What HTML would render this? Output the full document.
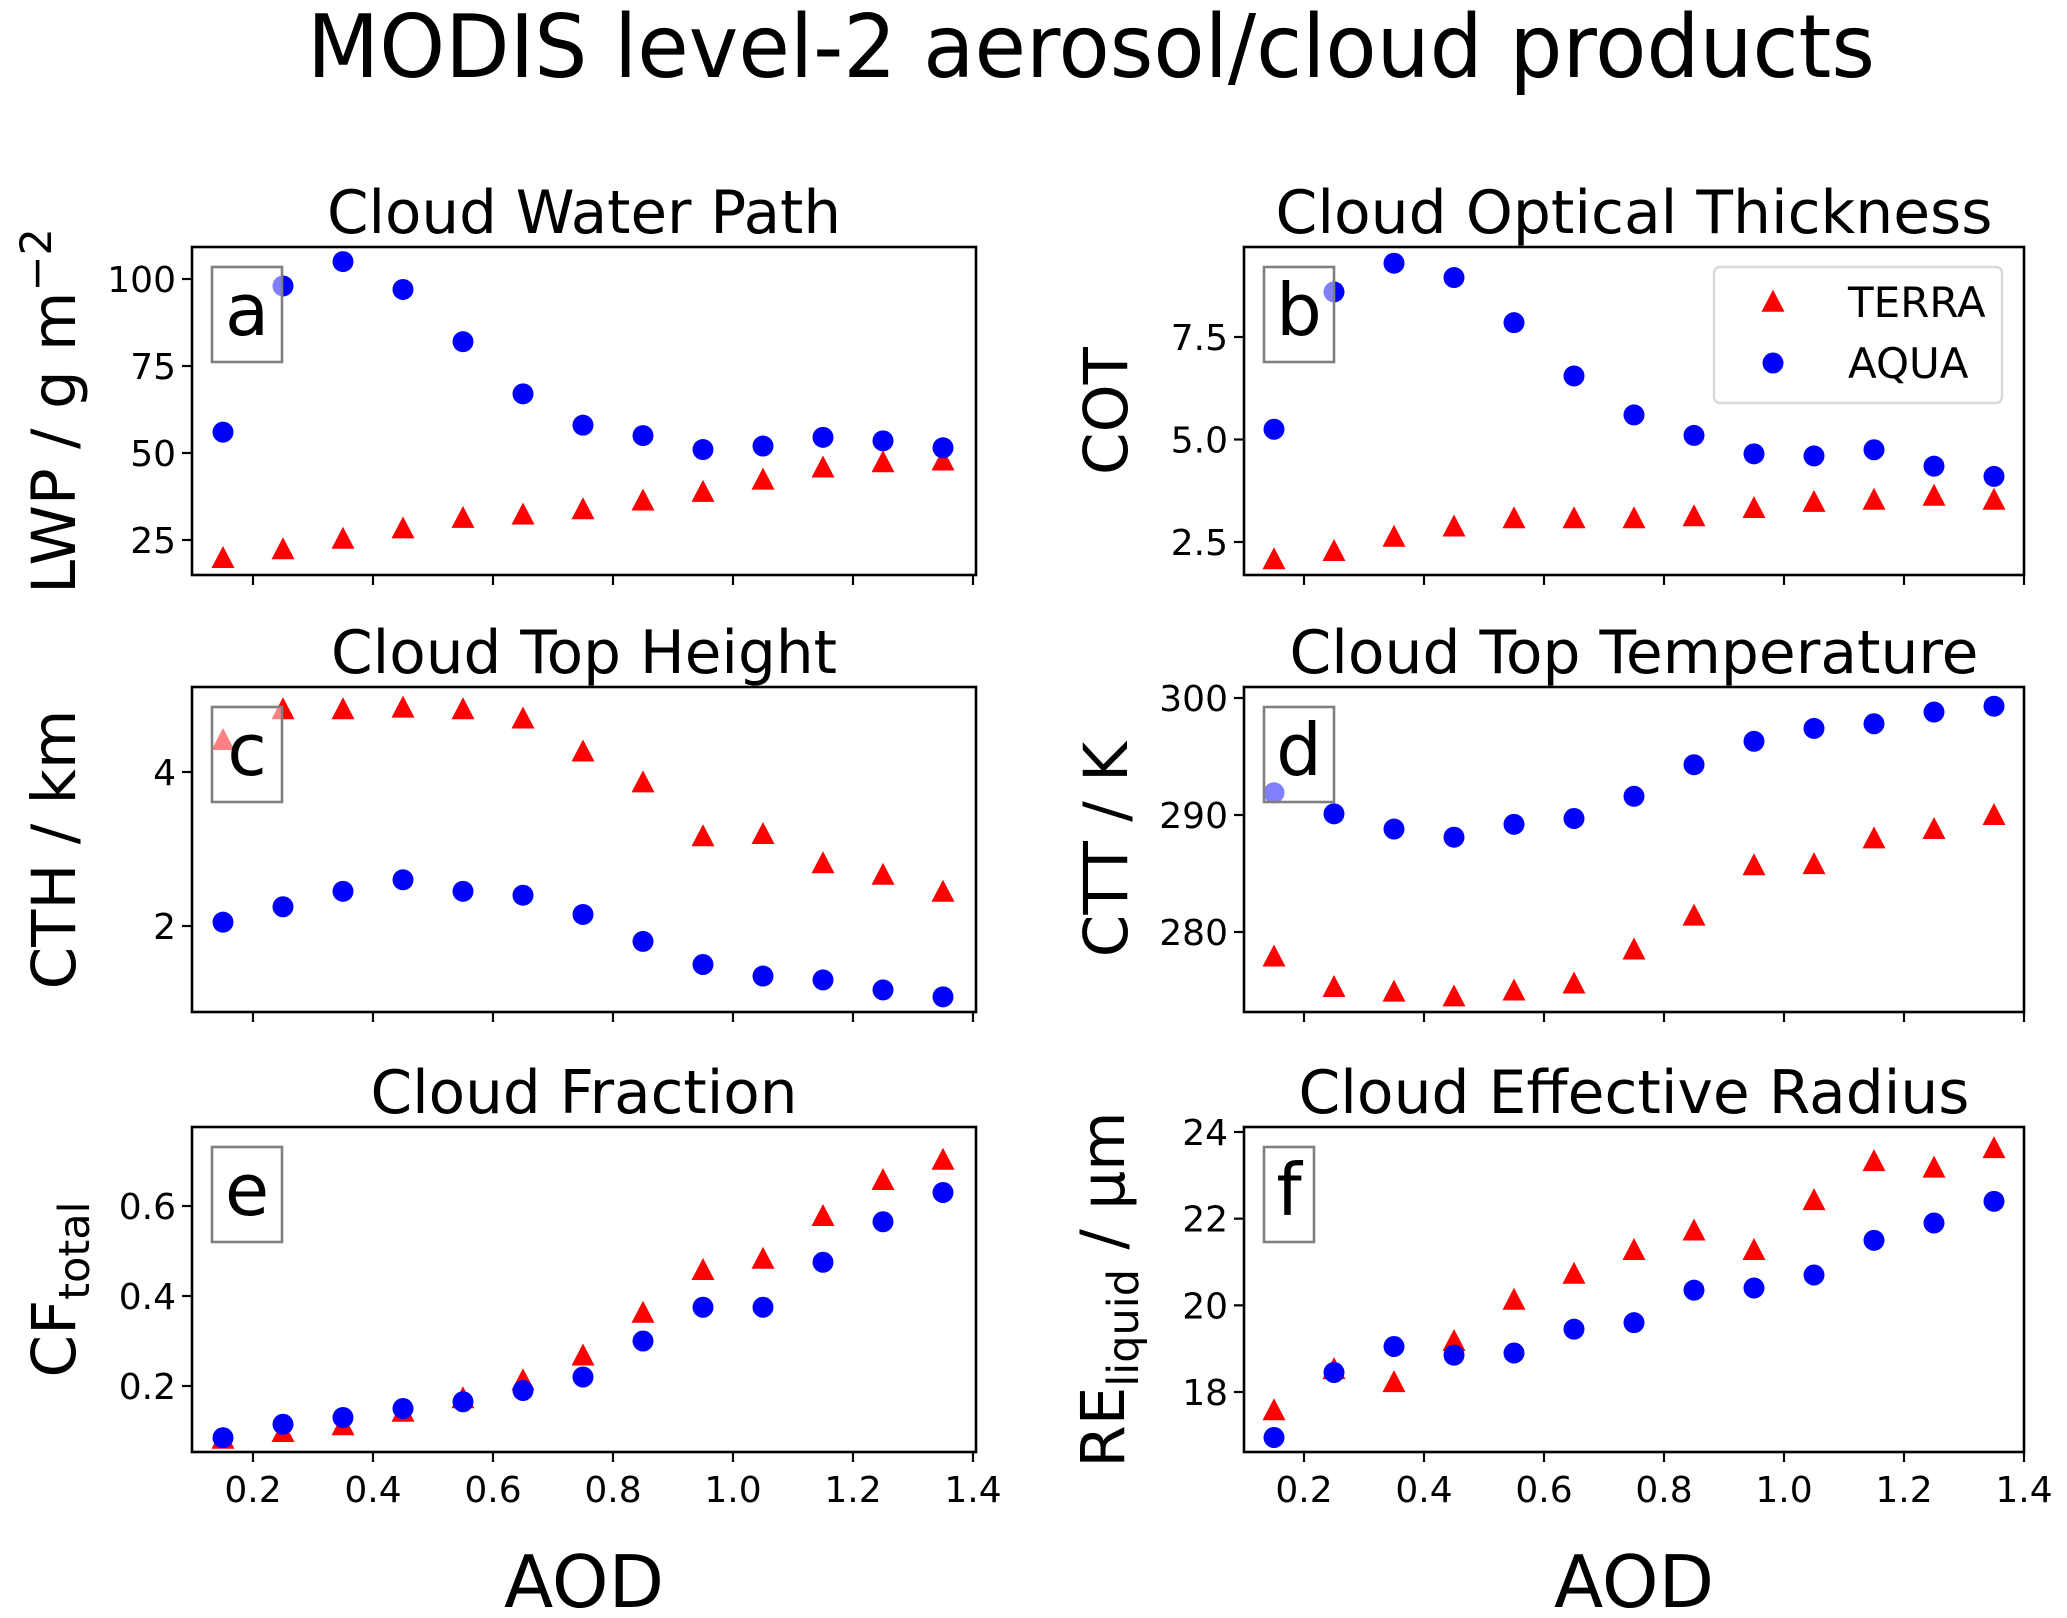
<!DOCTYPE html>
<html><head><meta charset="utf-8">
<style>
html,body{margin:0;padding:0;background:#fff;}
svg{display:block;}
text{font-family:"DejaVu Sans","Liberation Sans",sans-serif;fill:#000;}
</style></head>
<body>
<svg id="fig" width="2067" height="1618" viewBox="0 0 2067 1618" xmlns="http://www.w3.org/2000/svg">
<text x="1091" y="77" font-size="87" text-anchor="middle" textLength="1568" lengthAdjust="spacingAndGlyphs">MODIS level-2 aerosol/cloud products</text>
</svg>
<script>
const aod = [0.15,0.25,0.35,0.45,0.55,0.65,0.75,0.85,0.95,1.05,1.15,1.25,1.35];
const xTicks = [0.2,0.4,0.6,0.8,1.0,1.2,1.4];
const xTickLabels = ["0.2","0.4","0.6","0.8","1.0","1.2","1.4"];

const lwpTerra = [19.5,22,25,28,31,32,33.5,36,38.5,42,45.5,47,47.5];
const lwpAqua = [56,98,105,97,82,67,58,55,51,52,54.5,53.5,51.5];
const lwpTicks = [25,50,75,100];
const lwpTickLabels = ["25","50","75","100"];

const cotTerra = [2.05,2.25,2.6,2.85,3.05,3.05,3.05,3.1,3.3,3.45,3.5,3.6,3.5];
const cotAqua = [5.25,8.6,9.3,8.95,7.85,6.55,5.6,5.1,4.65,4.6,4.75,4.35,4.1];
const cotTicks = [2.5,5.0,7.5];
const cotTickLabels = ["2.5","5.0","7.5"];

const cthTerra = [4.4,4.8,4.8,4.82,4.8,4.68,4.25,3.85,3.15,3.18,2.8,2.65,2.43];
const cthAqua = [2.05,2.25,2.45,2.6,2.45,2.4,2.15,1.8,1.5,1.35,1.3,1.17,1.08];
const cthTicks = [2,4];
const cthTickLabels = ["2","4"];

const cttTerra = [277.8,275.2,274.8,274.4,274.9,275.5,278.4,281.3,285.6,285.7,287.9,288.7,289.9];
const cttAqua = [291.9,290.1,288.8,288.1,289.2,289.7,291.6,294.3,296.3,297.4,297.8,298.8,299.3];
const cttTicks = [280,290,300];
const cttTickLabels = ["280","290","300"];

const cfTerra = [0.08,0.095,0.11,0.14,0.17,0.21,0.265,0.36,0.455,0.48,0.575,0.655,0.7];
const cfAqua = [0.085,0.115,0.13,0.15,0.165,0.19,0.22,0.3,0.375,0.375,0.475,0.565,0.63];
const cfTicks = [0.2,0.4,0.6];
const cfTickLabels = ["0.2","0.4","0.6"];

const reTerra = [17.55,18.5,18.2,19.15,20.1,20.7,21.25,21.7,21.25,22.4,23.3,23.15,23.6];
const reAqua = [16.95,18.45,19.05,18.85,18.9,19.45,19.6,20.35,20.4,20.7,21.5,21.9,22.4];
const reTicks = [18,20,22,24];
const reTickLabels = ["18","20","22","24"];

const NS = "http://www.w3.org/2000/svg";
const svg = document.getElementById('fig');
function mk(tag, attrs, parent){
  const e = document.createElementNS(NS, tag);
  for (const k in attrs) e.setAttribute(k, attrs[k]);
  (parent||svg).appendChild(e);
  return e;
}

const panels = [
  {id:'a', title:'Cloud Water Path', L:192, R:976, T:247, B:575, x0:253, yA:[25,540], yB:[100,279],
   terra:lwpTerra, aqua:lwpAqua, ticks:lwpTicks, labels:lwpTickLabels, xlab:false, tlen:514, ylab:'LWP / g m', sup:'−2', ylx:75},
  {id:'b', title:'Cloud Optical Thickness', L:1244, R:2024, T:247, B:575, x0:1304, yA:[2.5,542], yB:[7.5,337],
   terra:cotTerra, aqua:cotAqua, ticks:cotTicks, labels:cotTickLabels, xlab:false, tlen:717, ylab:'COT', ylx:1127, legend:true},
  {id:'c', title:'Cloud Top Height', L:192, R:976, T:687, B:1012, x0:253, yA:[2,926], yB:[4,772],
   terra:cthTerra, aqua:cthAqua, ticks:cthTicks, labels:cthTickLabels, xlab:false, tlen:506, ylab:'CTH / km', ylx:75},
  {id:'d', title:'Cloud Top Temperature', L:1244, R:2024, T:687, B:1012, x0:1304, yA:[280,932], yB:[300,698],
   terra:cttTerra, aqua:cttAqua, ticks:cttTicks, labels:cttTickLabels, xlab:false, tlen:689, ylab:'CTT / K', ylx:1127},
  {id:'e', title:'Cloud Fraction', L:192, R:976, T:1127, B:1452, x0:253, yA:[0.2,1386], yB:[0.6,1206],
   terra:cfTerra, aqua:cfAqua, ticks:cfTicks, labels:cfTickLabels, xlab:true, tlen:427, ylab:'CF', sub:'total', ylx:75},
  {id:'f', title:'Cloud Effective Radius', L:1244, R:2024, T:1127, B:1452, x0:1304, yA:[18,1392], yB:[24,1132],
   terra:reTerra, aqua:reAqua, ticks:reTicks, labels:reTickLabels, xlab:true, tlen:671, ylab:'RE', sub:'liquid', tail:' / μm', ylx:1124}
];

function tri(g, cx, cy, name){
  const h = 22, w = 23;
  const p = mk('polygon', {points:`${cx},${cy-h*0.6} ${cx-w/2},${cy+h*0.4} ${cx+w/2},${cy+h*0.4}`, fill:'#ff0000'}, g);
  
  
  return p;
}
function dot(g, cx, cy, name){
  const c = mk('circle', {cx:cx, cy:cy, r:10.5, fill:'#0000ff'}, g);
  
  
  return c;
}

panels.forEach(p => {
  const g = mk('g', {});
  
  
  const xs = v => p.x0 + (v - 0.2) * 600;
  const ys = v => p.yA[1] + (v - p.yA[0]) * (p.yB[1] - p.yA[1]) / (p.yB[0] - p.yA[0]);
  const cx = (p.L + p.R) / 2, cy = (p.T + p.B) / 2;

  const t = mk('text', {x:cx, y:p.T - 14, 'font-size':60, 'text-anchor':'middle', textLength:p.tlen, lengthAdjust:'spacingAndGlyphs'}, g);
  t.textContent = p.title;
  
  

  xTicks.forEach((v, i) => {
    const X = xs(v);
    mk('line', {x1:X, x2:X, y1:p.B, y2:p.B + 10, stroke:'#000', 'stroke-width':2.2}, g);
    if (p.xlab) {
      const tl = mk('text', {x:X, y:p.B + 50, 'font-size':36, 'text-anchor':'middle'}, g);
      tl.textContent = xTickLabels[i];
      
      
    }
  });
  p.ticks.forEach((v, i) => {
    const Y = ys(v);
    mk('line', {x1:p.L - 10, x2:p.L, y1:Y, y2:Y, stroke:'#000', 'stroke-width':2.2}, g);
    const tl = mk('text', {x:p.L - 16, y:Y + 13, 'font-size':36, 'text-anchor':'end'}, g);
    tl.textContent = p.labels[i];
    
    
  });

  const yl = mk('text', {x:0, y:0, 'font-size':61, 'text-anchor':'middle', transform:`translate(${p.ylx},${cy}) rotate(-90)`}, g);
  
  
  yl.appendChild(document.createTextNode(p.ylab));
  if (p.sup) {
    const s = mk('tspan', {dy:-24, 'font-size':43}, yl); s.textContent = p.sup;
  }
  if (p.sub) {
    const s = mk('tspan', {dy:14, 'font-size':43}, yl); s.textContent = p.sub;
    if (p.tail) { const s2 = mk('tspan', {dy:-14}, yl); s2.textContent = p.tail; }
  }

  aod.forEach((v, i) => { tri(g, xs(v), ys(p.terra[i]), 'terra-point'); });
  aod.forEach((v, i) => { dot(g, xs(v), ys(p.aqua[i]), 'aqua-point'); });

  const bw = (p.id === 'f') ? 50 : 70;
  const bx = p.L + 20;
  const bb = mk('rect', {x:bx, y:p.T + 20, width:bw, height:95, fill:'rgba(255,255,255,0.5)', stroke:'#808080', 'stroke-width':2.6}, g);
  
  
  const lt = mk('text', {x:bx + bw/2, y:p.T + 88, 'font-size':72, 'text-anchor':'middle'}, g);
  lt.textContent = p.id;
  
  

  const fr = mk('rect', {x:p.L, y:p.T, width:p.R - p.L, height:p.B - p.T, fill:'none', stroke:'#000', 'stroke-width':2.6}, g);
  
  

  if (p.xlab) {
    const xl = mk('text', {x:cx, y:1607, 'font-size':72, 'text-anchor':'middle'}, g);
    xl.textContent = 'AOD';
    
    
  }

  if (p.legend) {
    const lg = mk('g', {}, g);
    
    
    mk('rect', {x:1714, y:267, width:288, height:136, rx:6, fill:'#fff', stroke:'#d9d9d9', 'stroke-width':2.4}, lg);
    tri(lg, 1773, 303, 'legend-marker-terra');
    const t1 = mk('text', {x:1848, y:317, 'font-size':42}, lg);
    t1.textContent = 'TERRA';
    
    
    dot(lg, 1773, 363, 'legend-marker-aqua');
    const t2 = mk('text', {x:1848, y:378, 'font-size':42}, lg);
    t2.textContent = 'AQUA';
    
    
  }
});
</script>
</body></html>
